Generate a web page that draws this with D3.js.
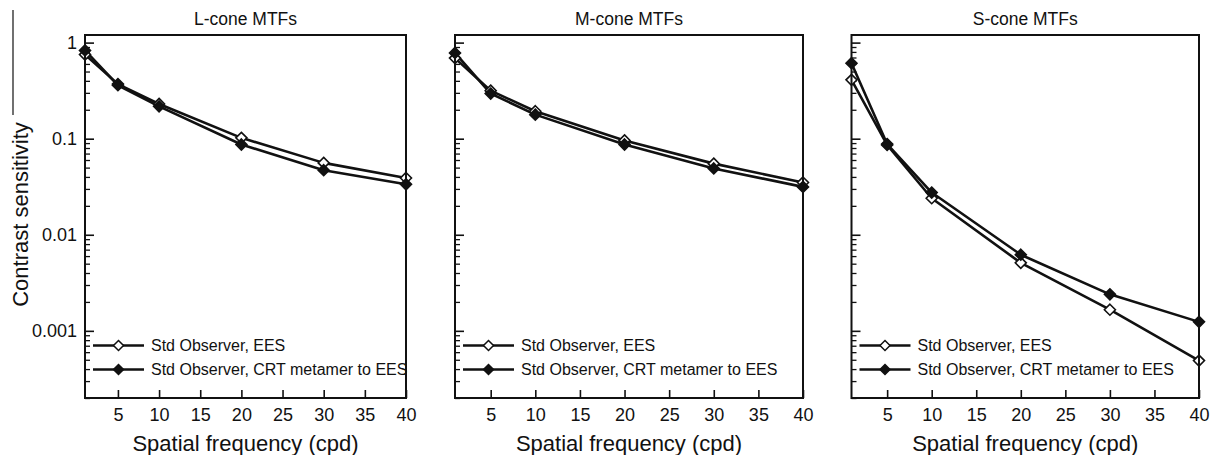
<!DOCTYPE html>
<html>
<head>
<meta charset="utf-8">
<script src="https://cdn.jsdelivr.net/npm/d3@7"></script>
<style>
  body { margin: 0; background: #fff; }
  svg { display: block; font-family: "Liberation Sans", Arial, Helvetica, sans-serif; }
</style>
</head>
<body>
<div id="chart"></div>
<script>
// values
const freqs = [1, 5, 10, 20, 30, 40];
const xTicks = [5, 10, 15, 20, 25, 30, 35, 40];
const yMajor = [0.001, 0.01, 0.1, 1];
const yLabels = ["0.001", "0.01", "0.1", "1"];
const titles = ["L-cone MTFs", "M-cone MTFs", "S-cone MTFs"];
const seriesNames = ["Std Observer, EES", "Std Observer, CRT metamer to EES"];

const lEES = [0.75, 0.37, 0.23, 0.102, 0.056, 0.039];
const lCRT = [0.83, 0.36, 0.217, 0.087, 0.047, 0.0335];
const mEES = [0.69, 0.316, 0.193, 0.096, 0.055, 0.035];
const mCRT = [0.78, 0.295, 0.178, 0.087, 0.049, 0.0315];
const sEES = [0.41, 0.086, 0.024, 0.0051, 0.00166, 0.00049];
const sCRT = [0.61, 0.088, 0.0275, 0.0062, 0.0024, 0.00124];

const W = 1212, H = 455;
const plotTop = 35, plotBottom = 398;
// left/right edges of each plot box
const boxes = [[85, 406], [455, 803], [851.5, 1199]];
const panels = [
  {title: titles[0], ees: lEES, crt: lCRT},
  {title: titles[1], ees: mEES, crt: mCRT},
  {title: titles[2], ees: sEES, crt: sCRT}
];

const font = "'Liberation Sans', Arial, Helvetica, sans-serif";
const ink = "#111";

const svg = d3.select("#chart").append("svg")
    .attr("width", W)
    .attr("height", H);

// stray crop edge at top left of the figure
svg.append("line")
    .attr("x1", 13).attr("x2", 13)
    .attr("y1", 10).attr("y2", 115)
    .attr("stroke", ink).attr("stroke-width", 1.2);

const y = d3.scaleLog().domain([0.0002, 1.2]).range([plotBottom, plotTop]);

let yMinor = [];
[0.0001, 0.001, 0.01, 0.1].forEach(d => {
  for (let k = 2; k <= 9; k++) {
    let v = +(d * k).toPrecision(3);
    if (v >= 0.0002) yMinor.push(v);
  }
});

function diamond(r) {
  return `M0,${-r}L${r},0L0,${r}L${-r},0Z`;
}

panels.forEach((p, i) => {
  let [x0, x1] = boxes[i];
  let x = d3.scaleLinear().domain([1, 40]).range([x0, x1]);
  let g = svg.append("g");

  // title
  g.append("text")
      .attr("x", (x0 + x1) / 2)
      .attr("y", 25)
      .attr("text-anchor", "middle")
      .attr("font-size", 17.5)
      .attr("fill", ink)
      .text(p.title);

  // x axis, ticks pointing inward
  let xAxis = g.append("g")
      .attr("transform", `translate(0,${plotBottom})`)
      .call(d3.axisBottom(x).tickValues(xTicks).tickSize(-8).tickPadding(10));
  xAxis.select(".domain").remove();
  xAxis.selectAll("line").attr("stroke", ink).attr("stroke-width", 1.6);
  xAxis.selectAll("text").attr("font-size", 18).attr("font-family", font).attr("fill", ink);

  // y axis: minor ticks
  let yMin = g.append("g")
      .attr("transform", `translate(${x0},0)`)
      .call(d3.axisLeft(y).tickValues(yMinor).tickSize(-5).tickFormat(""));
  yMin.select(".domain").remove();
  yMin.selectAll("line").attr("stroke", ink).attr("stroke-width", 1.3);

  // y axis: decades
  let yMaj = g.append("g")
      .attr("transform", `translate(${x0},0)`)
      .call(d3.axisLeft(y).tickValues(yMajor).tickSize(-9).tickPadding(8)
        .tickFormat((d, j) => i === 0 ? yLabels[j] : ""));
  yMaj.select(".domain").remove();
  yMaj.selectAll("line").attr("stroke", ink).attr("stroke-width", 1.6);
  yMaj.selectAll("text").attr("font-size", 18).attr("font-family", font).attr("fill", ink);

  // x axis title
  g.append("text")
      .attr("x", (x0 + x1) / 2)
      .attr("y", 451)
      .attr("text-anchor", "middle")
      .attr("font-size", 22)
      .attr("fill", ink)
      .text("Spatial frequency (cpd)");

  let line = d3.line()
      .x((d, j) => x(freqs[j]))
      .y(d => y(d));

  [p.ees, p.crt].forEach(vals => {
    g.append("path")
        .datum(vals)
        .attr("d", line)
        .attr("fill", "none")
        .attr("stroke", ink)
        .attr("stroke-width", 2.6)
        .attr("stroke-linejoin", "round");
  });
  [p.ees, p.crt].forEach((vals, s) => {
    g.selectAll(null)
        .data(vals)
        .enter()
        .append("path")
        .attr("d", diamond(5.5))
        .attr("transform", (d, j) => `translate(${x(freqs[j])},${y(d)})`)
        .attr("fill", s === 0 ? "#fff" : ink)
        .attr("stroke", ink)
        .attr("stroke-width", 1.6);
  });

  // legend
  seriesNames.forEach((name, s) => {
    let ly = 345.5 + s * 24;
    g.append("line")
        .attr("x1", x0 + 8).attr("x2", x0 + 59)
        .attr("y1", ly).attr("y2", ly)
        .attr("stroke", ink).attr("stroke-width", 2.6);
    g.append("path")
        .attr("d", diamond(5))
        .attr("transform", `translate(${x0 + 33.5},${ly})`)
        .attr("fill", s === 0 ? "#fff" : ink)
        .attr("stroke", ink)
        .attr("stroke-width", 1.5);
    g.append("text")
        .attr("x", x0 + 66)
        .attr("y", ly)
        .attr("dy", "0.36em")
        .attr("font-size", 16)
        .attr("fill", ink)
        .text(name);
  });

  // plot box
  g.append("rect")
      .attr("x", x0).attr("y", plotTop)
      .attr("width", x1 - x0).attr("height", plotBottom - plotTop)
      .attr("fill", "none")
      .attr("stroke", ink)
      .attr("stroke-width", 2);
});

// y axis title
svg.append("text")
    .attr("transform", `translate(28,${(plotTop + plotBottom) / 2 - 2}) rotate(-90)`)
    .attr("text-anchor", "middle")
    .attr("font-size", 22)
    .attr("fill", ink)
    .text("Contrast sensitivity");
</script>
</body>
</html>
